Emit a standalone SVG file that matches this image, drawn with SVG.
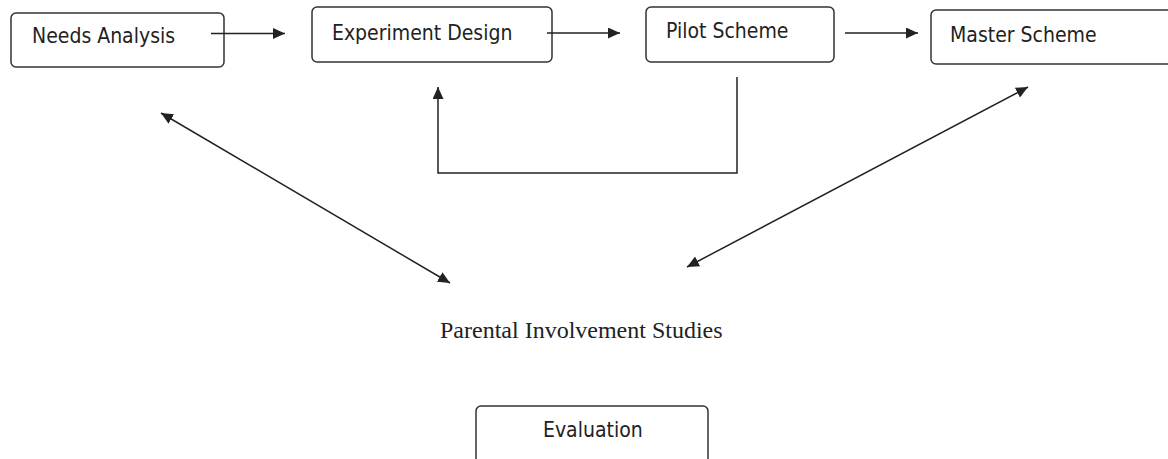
<svg xmlns="http://www.w3.org/2000/svg" width="1168" height="459" viewBox="0 0 1168 459">
  <style>
    .box { fill: #ffffff; stroke: #333333; stroke-width: 1.5; }
    .lbl { font-family: "DejaVu Sans Condensed", "DejaVu Sans", sans-serif; font-size: 21px; fill: #222222; }
    .serif { font-family: "Liberation Serif", "Times New Roman", serif; font-size: 24px; fill: #222222; }
    .conn { fill: none; stroke: #222222; stroke-width: 1.5; }
  </style>
  <defs>
    <marker id="arrow" markerUnits="userSpaceOnUse" markerWidth="13" markerHeight="12" refX="12" refY="5.5" orient="auto-start-reverse">
      <path d="M0,0 L12,5.5 L0,11 Z" fill="#222222"/>
    </marker>
  </defs>
  <rect width="1168" height="459" fill="#ffffff"/>

  <g id="node-needs-analysis">
    <rect class="box" x="11" y="13" width="213" height="54" rx="5"/>
    <text class="lbl" x="32" y="43">Needs Analysis</text>
  </g>
  <g id="node-experiment-design">
    <rect class="box" x="312" y="7" width="240" height="55" rx="5"/>
    <text class="lbl" x="332" y="40">Experiment Design</text>
  </g>
  <g id="node-pilot-scheme">
    <rect class="box" x="646" y="7" width="188" height="55" rx="5"/>
    <text class="lbl" x="666" y="38">Pilot Scheme</text>
  </g>
  <g id="node-master-scheme">
    <rect class="box" x="931" y="10" width="260" height="54" rx="5"/>
    <text class="lbl" x="950" y="42">Master Scheme</text>
  </g>
  <g id="node-parental">
    <text class="serif" x="440" y="338">Parental Involvement Studies</text>
  </g>
  <g id="node-evaluation">
    <rect class="box" x="476" y="406" width="232" height="70" rx="5"/>
    <text class="lbl" x="543" y="437">Evaluation</text>
  </g>

  <g id="connectors">
    <line class="conn" x1="211" y1="33.5" x2="285" y2="33.5" marker-end="url(#arrow)"/>
    <line class="conn" x1="547" y1="33" x2="620" y2="33" marker-end="url(#arrow)"/>
    <line class="conn" x1="845" y1="33" x2="918" y2="33" marker-end="url(#arrow)"/>
    <polyline class="conn" points="737,77 737,173 438,173 438,87" marker-end="url(#arrow)"/>
    <line class="conn" x1="161" y1="113" x2="450" y2="283" marker-start="url(#arrow)" marker-end="url(#arrow)"/>
    <line class="conn" x1="1028" y1="87" x2="687" y2="267" marker-start="url(#arrow)" marker-end="url(#arrow)"/>
  </g>
</svg>
